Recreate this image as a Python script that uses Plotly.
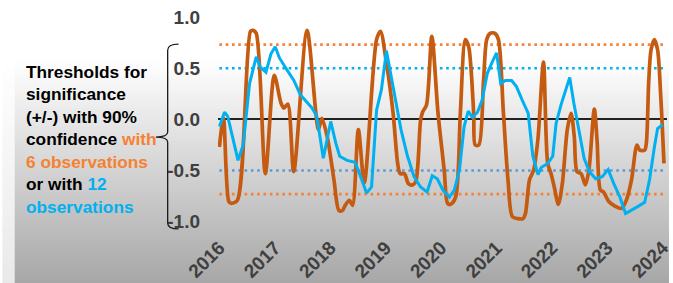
import plotly.graph_objects as go

# ---- data ----
obs6_dates = ["2016-01-01","2016-01-28","2016-03-03","2016-03-20","2016-04-29","2016-07-24","2016-08-09","2016-08-31",
              "2016-10-30","2016-12-28","2017-02-10","2017-03-01","2017-03-27","2017-05-05","2017-08-01","2017-10-15",
              "2017-11-06","2017-12-12","2018-01-25","2018-02-27","2018-03-22","2018-04-09","2018-05-07","2018-05-28",
              "2018-07-05","2018-08-13","2018-11-02","2018-11-28","2019-01-06","2019-02-19","2019-03-21","2019-04-06",
              "2019-05-04","2019-06-01","2019-06-27","2019-07-18","2019-08-19","2019-09-01","2019-09-27","2019-11-01",
              "2019-12-12","2020-01-22","2020-02-13","2020-03-04","2020-04-06","2020-05-07","2020-06-09","2020-07-01",
              "2020-08-03","2020-08-13","2020-09-06","2020-10-07","2020-10-28","2020-11-19","2020-12-21","2021-01-13",
              "2021-02-15","2021-03-17","2021-04-15","2021-05-22","2021-06-24","2021-07-10","2021-08-06","2021-09-01",
              "2021-09-30","2021-11-06","2021-12-04","2021-12-26","2022-01-16","2022-02-12","2022-03-10","2022-04-12",
              "2022-05-07","2022-05-28","2022-06-15","2022-07-12","2022-08-09","2022-09-01","2022-10-07","2022-10-25",
              "2022-11-16","2022-12-07","2023-01-09","2023-02-22","2023-04-04","2023-05-06","2023-06-09","2023-07-15",
              "2023-08-02","2023-09-04","2023-09-15","2023-10-01","2023-10-16","2023-11-07","2023-11-28","2023-12-19",
              "2024-01-09"]
obs6_values = [-0.27, 0.01, -0.80, -0.82, -0.79, 0.86, 0.87, 0.84,
               -0.53, 0.43, 0.16, 0.11, 0.15, -0.51, 0.87, -0.10,
               0.01, -0.17, -0.59, -0.89, -0.89, -0.84, -0.79, -0.84,
               -0.10, -0.62, 0.78, 0.86, 0.55, 0.06, -0.43, -0.53,
               -0.53, -0.63, -0.64, -0.61, -0.01, 0.07, 0.14, 0.81,
               0.06, -0.50, -0.82, -0.83, -0.76, 0.06, 0.78, 0.71,
               0.06, -0.25, -0.25, 0.38, 0.78, 0.84, 0.84, 0.78,
               0.06, -0.59, -0.95, -0.97, -0.97, -0.92, -0.59, -0.50,
               -0.20, 0.56, -0.43, -0.53, -0.66, -0.83, -0.63, -0.10,
               0.06, -0.17, -0.51, -0.53, -0.64, -0.50, 0.10, -0.20,
               -0.69, -0.71, -0.80, -0.85, -0.87, -0.79, -0.59, -0.25,
               -0.30, -0.30, -0.23, 0.38, 0.68, 0.78, 0.68, 0.22,
               -0.43]

obs12_dates = ["2016-01-01","2016-02-04","2016-02-25","2016-05-03","2016-06-06","2016-07-18","2016-08-31","2016-09-27",
               "2016-11-03","2016-12-06","2017-01-03","2017-01-31","2017-03-23","2017-05-06","2017-06-18","2017-08-01",
               "2017-09-03","2017-10-04","2017-11-16","2018-01-04","2018-02-06","2018-03-04","2018-04-21","2018-06-13",
               "2018-07-05","2018-08-28","2018-09-30","2018-11-02","2018-12-04","2019-01-06","2019-02-19","2019-04-12",
               "2019-05-25","2019-07-07","2019-08-19","2019-10-01","2019-11-04","2019-12-07","2020-01-13","2020-02-25",
               "2020-03-28","2020-05-01","2020-06-01","2020-06-28","2020-07-25","2020-08-28","2020-09-28","2020-11-01",
               "2020-12-03","2021-01-01","2021-01-28","2021-02-28","2021-04-10","2021-05-12","2021-06-24","2021-07-28",
               "2021-08-28","2021-10-01","2021-10-22","2021-12-04","2022-01-06","2022-01-28","2022-03-01","2022-04-28",
               "2022-05-25","2022-06-28","2022-08-01","2022-09-04","2022-10-16","2022-11-28","2023-01-06","2023-02-13",
               "2023-03-25","2023-05-01","2023-06-09","2023-07-22","2023-09-04","2023-10-06","2023-11-07","2023-11-28",
               "2024-01-01"]
obs12_values = [-0.07, 0.07, 0.03, -0.40, -0.25, 0.35, 0.61, 0.51,
                0.46, 0.64, 0.71, 0.60, 0.48, 0.38, 0.24, 0.16,
                0.11, 0.03, -0.38, -0.02, -0.23, -0.36, -0.40, -0.42,
                -0.50, -0.72, -0.66, 0.09, 0.29, 0.67, 0.32, -0.10,
                -0.36, -0.56, -0.66, -0.71, -0.55, -0.58, -0.69, -0.76,
                -0.69, -0.50, -0.07, 0.08, 0.02, 0.07, 0.19, 0.45,
                0.56, 0.65, 0.35, 0.38, 0.38, 0.32, 0.17, 0.06,
                -0.36, -0.54, -0.47, -0.43, -0.36, -0.04, 0.14, 0.41,
                0.16, -0.10, -0.38, -0.51, -0.58, -0.56, -0.49, -0.63,
                -0.76, -0.92, -0.89, -0.85, -0.81, -0.59, -0.27, -0.09,
                -0.05]

threshold_6 = 0.73
threshold_12 = 0.50

year_ticks = ["2016-01-01","2017-01-01","2018-01-01","2019-01-01","2020-01-01",
              "2021-01-01","2022-01-01","2023-01-01","2024-01-01"]
year_labels = ["2016","2017","2018","2019","2020","2021","2022","2023","2024"]
y_ticks = [-1.0, -0.5, 0.0, 0.5, 1.0]
y_labels = ["-1.0", "-0.5", "0.0", "0.5", "1.0"]

# ---- styling ----
ORANGE_LINE = "#C55A11"
BLUE_LINE = "#00B0F0"
ORANGE_DOT = "#F4823A"
BLUE_DOT_UP = "#00B0F0"
BLUE_DOT_LO = "#5B9BD5"
ORANGE_TXT = "#F58232"
BLUE_TXT = "#00B0F0"
FONT = "Liberation Sans, Arial, sans-serif"

W, H = 673, 283
ML, MR, MT, MB = 218, 0, 17, 51
PW, PH = W - ML - MR, H - MT - MB


def px_to_paper_x(px):
    return (px - ML) / PW


def py_to_paper_y(py):
    return (H - MB - py) / PH


fig = go.Figure()

x_span = [obs6_dates[0], obs6_dates[-1]]
for val, col in [(threshold_6, ORANGE_DOT), (-threshold_6, ORANGE_DOT),
                 (threshold_12, BLUE_DOT_UP), (-threshold_12, BLUE_DOT_LO)]:
    fig.add_trace(go.Scatter(x=x_span, y=[val, val], mode="lines",
                             line=dict(color=col, width=2.6, dash="2.6px,3.7px"),
                             hoverinfo="skip", showlegend=False))

fig.add_trace(go.Scatter(x=obs6_dates, y=obs6_values, mode="lines",
                         line=dict(color=ORANGE_LINE, width=3.7, shape="spline", smoothing=0.8),
                         showlegend=False))
fig.add_trace(go.Scatter(x=obs12_dates, y=obs12_values, mode="lines",
                         line=dict(color=BLUE_LINE, width=3),
                         showlegend=False))

# background gradient bands
shapes = []
top, bottom = 60, H
step = 3
py = 0
while py < H:
    frac = max(0.0, (py + step / 2 - top) / (bottom - top))
    c = int(round(255 - frac * 88))
    shapes.append(dict(type="rect", xref="paper", yref="paper", layer="below",
                       x0=px_to_paper_x(0), x1=px_to_paper_x(W + 2),
                       y0=py_to_paper_y(py + step + 0.5), y1=py_to_paper_y(py),
                       fillcolor=f"rgb({c},{c},{c})", line=dict(width=0)))
    c2 = int(round(255 - frac * 22))
    shapes.append(dict(type="rect", xref="paper", yref="paper", layer="below",
                       x0=px_to_paper_x(0), x1=px_to_paper_x(12),
                       y0=py_to_paper_y(py + step + 0.5), y1=py_to_paper_y(py),
                       fillcolor=f"rgb({c2},{c2},{c2})", line=dict(width=0)))
    py += step

# curly brace
bx = px_to_paper_x(167)
bh = px_to_paper_x(178)
bt = px_to_paper_x(155)
brace = (f"M {bh},0.736 Q {bx},0.736 {bx},0.676 L {bx},-0.124 "
         f"Q {bx},-0.173 {bt},-0.173 Q {bx},-0.173 {bx},-0.222 "
         f"L {bx},-1.012 Q {bx},-1.07 {bh},-1.07")
shapes.append(dict(type="path", xref="paper", yref="y", layer="above", path=brace,
                   line=dict(color="#1a1a1a", width=1.3)))

fig.update_layout(shapes=shapes)

text = ("Thresholds for<br>significance<br>(+/-) with 90%<br>"
        f"confidence <span style='color:{ORANGE_TXT}'>with</span><br>"
        f"<span style='color:{ORANGE_TXT}'>6 observations</span><br>"
        f"or with <span style='color:{BLUE_TXT}'>12</span><br>"
        f"<span style='color:{BLUE_TXT}'>observations</span>")
fig.add_annotation(text=text, xref="paper", yref="paper",
                   x=px_to_paper_x(21), y=py_to_paper_y(139),
                   xanchor="left", yanchor="middle", align="left", showarrow=False,
                   font=dict(family=FONT, size=17.3, color="#000000", weight="bold"))

fig.update_layout(
    width=W, height=H,
    margin=dict(l=ML, r=MR, t=MT, b=MB, pad=0),
    paper_bgcolor="#ffffff",
    plot_bgcolor="rgba(0,0,0,0)",
    showlegend=False,
    xaxis=dict(type="date", range=["2015-12-23", "2024-01-29"],
               tickvals=year_ticks, ticktext=year_labels, tickangle=-45,
               ticklabeloverflow="allow",
               showgrid=False, zeroline=False, showline=False, ticks="",
               tickfont=dict(family=FONT, size=19, color="#404040", weight="bold")),
    yaxis=dict(range=[-1.1, 1.0], tickvals=y_ticks, ticktext=y_labels,
               showgrid=False, zeroline=True, zerolinecolor="#222222", zerolinewidth=1.5,
               showline=False, ticks="", ticklabelstandoff=17,
               tickfont=dict(family=FONT, size=19, color="#404040", weight="bold")),
)

fig.write_html("out.html",
               config={"displayModeBar": False},
               post_script="document.body.style.margin='0';document.body.style.overflow='hidden';")
